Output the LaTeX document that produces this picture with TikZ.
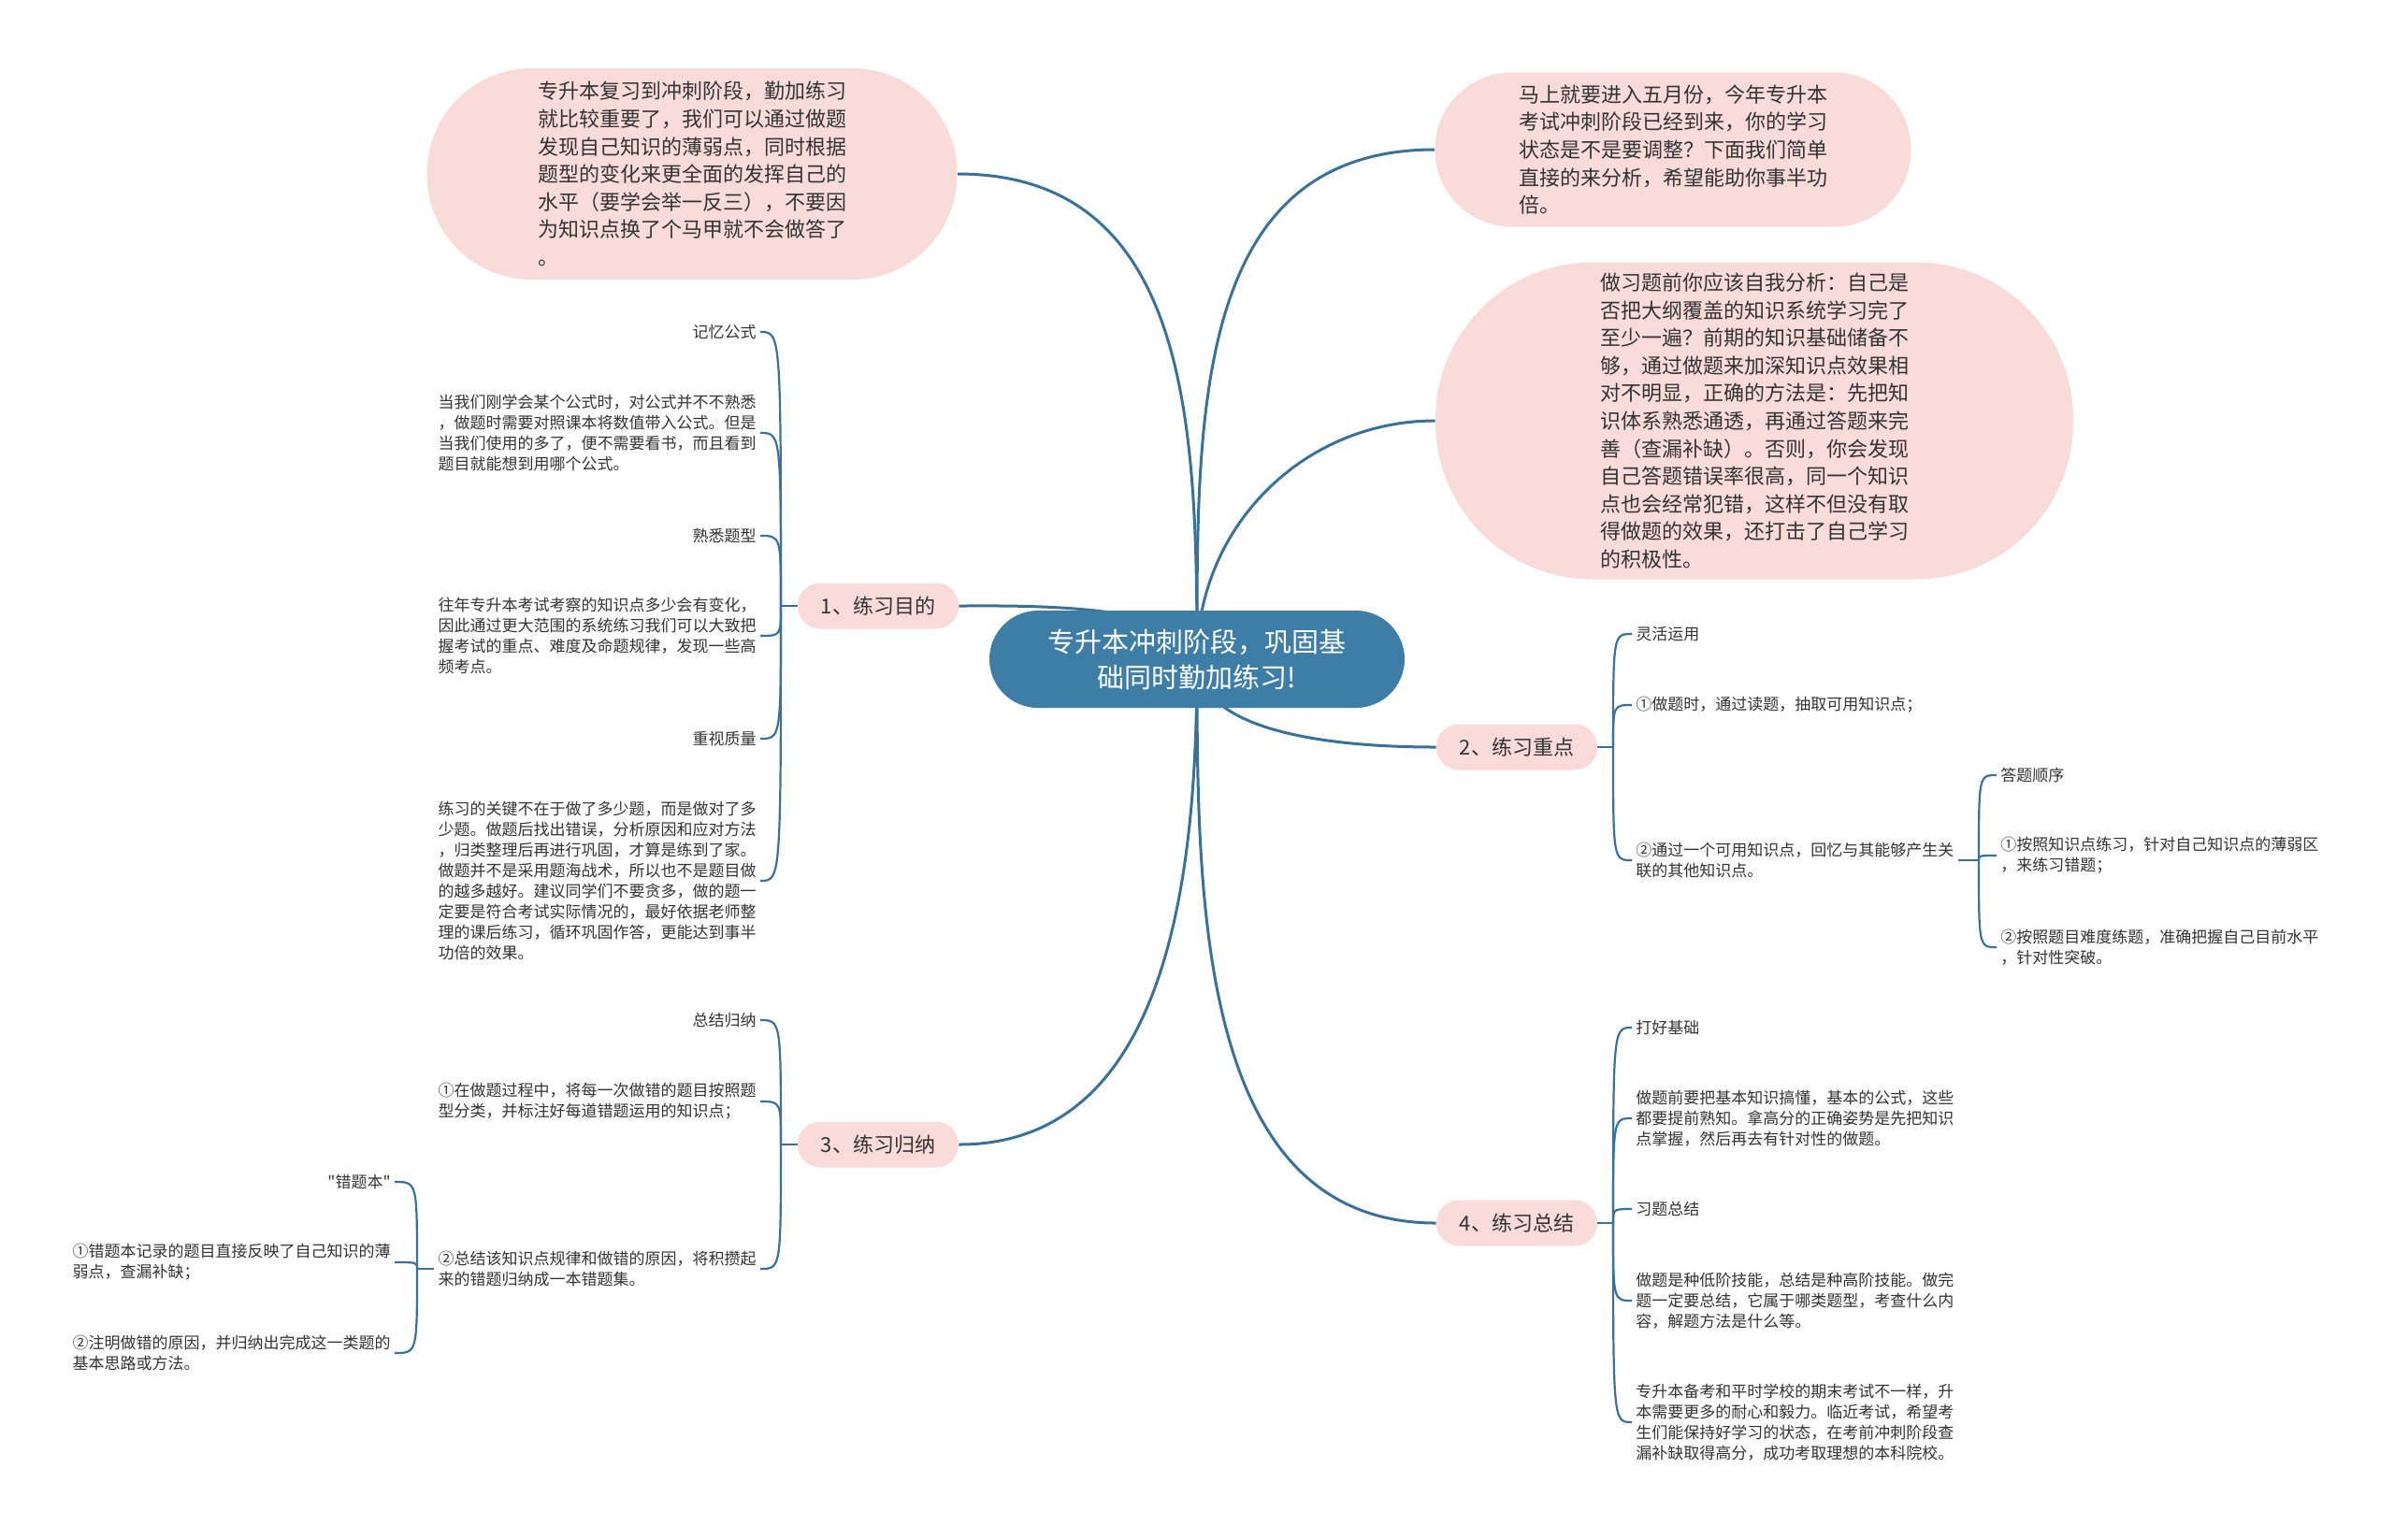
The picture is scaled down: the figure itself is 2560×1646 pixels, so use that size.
\documentclass[tikz,border=0pt]{standalone}
\usepackage{fontspec}
\setmainfont{Noto Sans CJK SC}[Ligatures=TeXOff]
\usetikzlibrary{backgrounds}
\definecolor{rootc}{HTML}{3E7EA6}
\definecolor{topicc}{HTML}{F9DBDA}
\definecolor{linkc}{HTML}{3A7199}
\definecolor{textc}{HTML}{333333}

\begin{document}
\begin{tikzpicture}[x=0.5pt, y=-0.5pt,
    root/.style={fill=rootc, text=white, rounded corners=26pt, minimum width=222pt,
                 minimum height=52pt, align=center, font=\fontsize{14.5pt}{19pt}\selectfont},
    topic/.style={fill=topicc, text=textc, rounded corners=12pt, minimum width=86pt,
                  minimum height=24.5pt, font=\fontsize{11pt}{13pt}\selectfont},
    bubble/.style={fill=topicc, text=textc, align=left, font=\fontsize{11pt}{14.8pt}\selectfont},
    leaf/.style={text=textc, align=left, inner xsep=2pt, inner ysep=0pt,
                 font=\fontsize{8.5pt}{11pt}\selectfont},
    lleaf/.style={leaf, anchor=east},
    rleaf/.style={leaf, anchor=west},
    link/.style={draw=linkc, line width=1.5pt},
    twig/.style={draw=linkc, line width=1.1pt}
  ]
    \useasboundingbox (0,0) rectangle (2560,1646);

    \node[root] (ctr) at (1280,705) {专升本冲刺阶段，巩固基\\础同时勤加练习!};

    \node[bubble, minimum width=283.5pt, minimum height=113pt, rounded corners=56pt] (note1) at (740,186) {专升本复习到冲刺阶段，勤加练习\\就比较重要了，我们可以通过做题\\发现自己知识的薄弱点，同时根据\\题型的变化来更全面的发挥自己的\\水平（要学会举一反三），不要因\\为知识点换了个马甲就不会做答了\\。};
    \node[bubble, minimum width=254.5pt, minimum height=82.5pt, rounded corners=41pt] (note2) at (1789,160) {马上就要进入五月份，今年专升本\\考试冲刺阶段已经到来，你的学习\\状态是不是要调整？下面我们简单\\直接的来分析，希望能助你事半功\\倍。};
    \node[bubble, minimum width=341pt, minimum height=169.5pt, rounded corners=84pt] (note3) at (1876,450) {做习题前你应该自我分析：自己是\\否把大纲覆盖的知识系统学习完了\\至少一遍？前期的知识基础储备不\\够，通过做题来加深知识点效果相\\对不明显，正确的方法是：先把知\\识体系熟悉通透，再通过答题来完\\善（查漏补缺）。否则，你会发现\\自己答题错误率很高，同一个知识\\点也会经常犯错，这样不但没有取\\得做题的效果，还打击了自己学习\\的积极性。};

    \node[topic] (t1) at (939,648) {1、练习目的};
    \node[topic] (t2) at (1622,799) {2、练习重点};
    \node[topic] (t3) at (939,1224) {3、练习归纳};
    \node[topic] (t4) at (1622,1308) {4、练习总结};

    \coordinate (j1) at (835,648);
    \coordinate (j2) at (1725,799);
    \coordinate (j3) at (835,1224);
    \coordinate (j4) at (1725,1308);
    \coordinate (j5) at (2116,920);
    \coordinate (j6) at (446,1357);

    \node[lleaf] (a1) at (813,355) {记忆公式};
    \node[lleaf] (a2) at (813,463) {当我们刚学会某个公式时，对公式并不不熟悉\\，做题时需要对照课本将数值带入公式。但是\\当我们使用的多了，便不需要看书，而且看到\\题目就能想到用哪个公式。};
    \node[lleaf] (a3) at (813,573) {熟悉题型};
    \node[lleaf] (a4) at (813,680) {往年专升本考试考察的知识点多少会有变化，\\因此通过更大范围的系统练习我们可以大致把\\握考试的重点、难度及命题规律，发现一些高\\频考点。};
    \node[lleaf] (a5) at (813,790) {重视质量};
    \node[lleaf] (a6) at (813,942) {练习的关键不在于做了多少题，而是做对了多\\少题。做题后找出错误，分析原因和应对方法\\，归类整理后再进行巩固，才算是练到了家。\\做题并不是采用题海战术，所以也不是题目做\\的越多越好。建议同学们不要贪多，做的题一\\定要是符合考试实际情况的，最好依据老师整\\理的课后练习，循环巩固作答，更能达到事半\\功倍的效果。};

    \node[rleaf] (b1) at (1745,678) {灵活运用};
    \node[rleaf] (b2) at (1745,754) {①做题时，通过读题，抽取可用知识点；};
    \node[rleaf] (b3) at (1745,920) {②通过一个可用知识点，回忆与其能够产生关\\联的其他知识点。};
    \node[rleaf] (b4) at (2135,829) {答题顺序};
    \node[rleaf] (b5) at (2135,915) {①按照知识点练习，针对自己知识点的薄弱区\\，来练习错题；};
    \node[rleaf] (b6) at (2135,1013) {②按照题目难度练题，准确把握自己目前水平\\，针对性突破。};

    \node[lleaf] (c1) at (813,1091) {总结归纳};
    \node[lleaf] (c2) at (813,1178) {①在做题过程中，将每一次做错的题目按照题\\型分类，并标注好每道错题运用的知识点；};
    \node[lleaf] (c3) at (813,1357) {②总结该知识点规律和做错的原因，将积攒起\\来的错题归纳成一本错题集。};
    \node[lleaf] (c4) at (422,1264) {"错题本"};
    \node[lleaf] (c5) at (422,1350) {①错题本记录的题目直接反映了自己知识的薄\\弱点，查漏补缺；};
    \node[lleaf] (c6) at (422,1447) {②注明做错的原因，并归纳出完成这一类题的\\基本思路或方法。};

    \node[rleaf] (d1) at (1745,1099) {打好基础};
    \node[rleaf] (d2) at (1745,1196) {做题前要把基本知识搞懂，基本的公式，这些\\都要提前熟知。拿高分的正确姿势是先把知识\\点掌握，然后再去有针对性的做题。};
    \node[rleaf] (d3) at (1745,1293) {习题总结};
    \node[rleaf] (d4) at (1745,1391) {做题是种低阶技能，总结是种高阶技能。做完\\题一定要总结，它属于哪类题型，考查什么内\\容，解题方法是什么等。};
    \node[rleaf] (d5) at (1745,1521) {专升本备考和平时学校的期末考试不一样，升\\本需要更多的耐心和毅力。临近考试，希望考\\生们能保持好学习的状态，在考前冲刺阶段查\\漏补缺取得高分，成功考取理想的本科院校。};

    \begin{scope}[on background layer]
      \fill[white] (0,0) rectangle (2560,1646);
      \draw[link] (ctr.center) to[out=90, in=0, looseness=1.1] (note1.east);
      \draw[link] (ctr.center) to[out=90, in=180, looseness=1.1] (note2.west);
      \draw[link] (ctr.center) to[out=90, in=180] (note3.west);
      \draw[link] (ctr.center) to[out=90, in=0, looseness=0.6] (t1.east);
      \draw[link] (ctr.center) to[out=-90, in=180, looseness=0.8] (t2.west);
      \draw[link] (ctr.center) to[out=-90, in=0] (t3.east);
      \draw[link] (ctr.center) to[out=-90, in=180] (t4.west);
    \end{scope}

    \draw[twig] (t1.west) -- (j1);
    \draw[twig] (t2.east) -- (j2);
    \draw[twig] (t3.west) -- (j3);
    \draw[twig] (t4.east) -- (j4);
    \draw[twig] (b3.east) -- (j5);
    \draw[twig] (c3.west) -- (j6);
    \foreach \k in {a1,a2,a3,a4,a5,a6}
      \draw[twig] (j1) .. controls (j1 |- \k) and (j1 |- \k) .. (\k.east);
    \foreach \k in {b1,b2,b3}
      \draw[twig] (j2) .. controls (j2 |- \k) and (j2 |- \k) .. (\k.west);
    \foreach \k in {b4,b5,b6}
      \draw[twig] (j5) .. controls (j5 |- \k) and (j5 |- \k) .. (\k.west);
    \foreach \k in {c1,c2,c3}
      \draw[twig] (j3) .. controls (j3 |- \k) and (j3 |- \k) .. (\k.east);
    \foreach \k in {c4,c5,c6}
      \draw[twig] (j6) .. controls (j6 |- \k) and (j6 |- \k) .. (\k.east);
    \foreach \k in {d1,d2,d3,d4,d5}
      \draw[twig] (j4) .. controls (j4 |- \k) and (j4 |- \k) .. (\k.west);
  \end{tikzpicture}
\end{document}
